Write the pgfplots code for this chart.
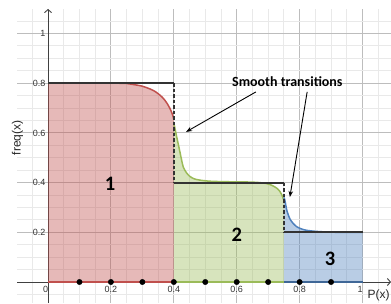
\documentclass[border=0pt]{standalone}
\usepackage{pgfplots}
\pgfplotsset{compat=1.18}
\usetikzlibrary{arrows.meta}
\usepackage{fontspec}
\setmainfont{Liberation Sans}
\newfontfamily\calib{Carlito}
\definecolor{cred}{HTML}{C0504D}
\definecolor{cgreen}{HTML}{9BBB59}
\definecolor{cblue}{HTML}{4F81BD}
\definecolor{steps}{HTML}{333333}
\definecolor{majgrid}{HTML}{BDBDBD}
\definecolor{mingrid}{HTML}{E9E9E9}
\begin{document}
\begin{tikzpicture}
\useasboundingbox (0,0) rectangle (391pt,303pt);
\begin{axis}[
  at={(17pt,0pt)}, anchor=south west,
  scale only axis, width=374pt, height=294pt,
  xmin=-0.0986, xmax=1.0906, ymin=-0.0845, ymax=1.0986,
  axis lines=middle,
  axis line style={draw=black!75, line width=0.9pt, -{Straight Barb[length=3pt,width=7pt]}},
  xtick={0,0.2,0.4,0.6,0.8,1},
  xticklabels={\makebox[0pt][r]{0},0.2,0.4,0.6,0.8,\makebox[0pt][r]{1}},
  ytick={0.2,0.4,0.6,0.8,1},
  yticklabels={0.2,0.4,0.6,0.8,1},
  minor xtick={-0.1,-0.05,...,1.1},
  minor ytick={-0.1,-0.05,...,1.1},
  hide obscured x ticks=false, hide obscured y ticks=false,
  grid=both,
  major grid style={draw=majgrid, line width=0.9pt},
  minor grid style={draw=mingrid, line width=0.9pt},
  major tick length=0pt, minor tick length=0pt,
  /pgf/number format/assume math mode=true,
  tick label style={font=\fontsize{9}{10}\selectfont, text=black!80},
  xticklabel style={anchor=north, yshift=-1pt},
  yticklabel style={anchor=east, xshift=1pt},
  clip=false,
]
% fills
\addplot[draw=none, fill=cred, fill opacity=0.4] coordinates {
 (0,0.8) (0.2,0.8) (0.25,0.799) (0.27,0.795) (0.3,0.788) (0.324,0.777) (0.34,0.767) (0.356,0.752) (0.368,0.737) (0.378,0.72) (0.387,0.70) (0.394,0.68) (0.398,0.665) (0.4,0.652) (0.4,0) (0,0)} -- cycle;
\addplot[draw=none, fill=cgreen, fill opacity=0.4] coordinates {
 (0.4,0.64) (0.405,0.61) (0.409,0.585) (0.415,0.55) (0.42,0.52) (0.425,0.49) (0.43,0.463) (0.44,0.44) (0.451,0.425) (0.465,0.415) (0.483,0.41) (0.51,0.406) (0.55,0.404) (0.6,0.403) (0.65,0.402) (0.68,0.399) (0.695,0.396) (0.71,0.39) (0.727,0.378) (0.737,0.365) (0.743,0.352) (0.748,0.335) (0.75,0.33) (0.75,0) (0.4,0)} -- cycle;
\addplot[draw=none, fill=cblue, fill opacity=0.4] coordinates {
 (0.75,0.34) (0.753,0.33) (0.756,0.31) (0.759,0.29) (0.764,0.27) (0.77,0.252) (0.78,0.235) (0.79,0.223) (0.805,0.214) (0.822,0.208) (0.85,0.204) (0.875,0.202) (0.92,0.2) (1,0.2) (1,0) (0.75,0)} -- cycle;
% curves
\addplot[cred, line width=1.5pt, smooth] coordinates {
 (0,0.8) (0.2,0.8) (0.25,0.799) (0.27,0.795) (0.3,0.788) (0.324,0.777) (0.34,0.767) (0.356,0.752) (0.368,0.737) (0.378,0.72) (0.387,0.70) (0.394,0.68) (0.398,0.665) (0.4,0.652)};
\addplot[cgreen, line width=1.5pt, smooth] coordinates {
 (0.4,0.64) (0.405,0.61) (0.409,0.585) (0.415,0.55) (0.42,0.52) (0.425,0.49) (0.43,0.463) (0.44,0.44) (0.451,0.425) (0.465,0.415) (0.483,0.41) (0.51,0.406) (0.55,0.404) (0.6,0.403) (0.65,0.402) (0.68,0.399) (0.695,0.396) (0.71,0.39) (0.727,0.378) (0.737,0.365) (0.743,0.352) (0.748,0.335) (0.75,0.33)};
\addplot[cblue, line width=1.5pt, smooth] coordinates {
 (0.75,0.34) (0.753,0.33) (0.756,0.31) (0.759,0.29) (0.764,0.27) (0.77,0.252) (0.78,0.235) (0.79,0.223) (0.805,0.214) (0.822,0.208) (0.85,0.204) (0.875,0.202) (0.92,0.2) (1,0.2)};
% bottom lines
\addplot[cred, line width=2pt] coordinates {(0,0) (0.4,0)};
\addplot[cgreen, line width=2pt] coordinates {(0.4,0) (0.75,0)};
\addplot[cblue!80!black, line width=2pt] coordinates {(0.75,0) (1,0)};
% steps
\addplot[steps, line width=1.8pt] coordinates {(0,0.8) (0.4,0.8)};
\addplot[steps, line width=1.8pt, dash pattern=on 3.5pt off 2pt] coordinates {(0.4,0.8) (0.4,0.4)};
\addplot[steps, line width=1.8pt] coordinates {(0.4,0.4) (0.75,0.4)};
\addplot[steps, line width=1.8pt, dash pattern=on 3.5pt off 2pt] coordinates {(0.75,0.4) (0.75,0.2)};
\addplot[steps, line width=1.8pt] coordinates {(0.75,0.2) (1,0.2)};
% dots
\addplot[only marks, mark=*, mark size=2.7pt, black] coordinates {
 (0.1,0) (0.2,0) (0.3,0) (0.4,0) (0.5,0) (0.6,0) (0.7,0) (0.8,0) (0.9,0)};
% annotations
\node[font=\calib\bfseries\fontsize{14}{15}\selectfont] at (axis cs:0.761,0.805) {Smooth transitions};
\draw[black, line width=0.9pt, -{Stealth[length=6pt,width=4.5pt]}] (axis cs:0.661,0.765) -- (axis cs:0.439,0.604);
\draw[black, line width=0.9pt, -{Stealth[length=6pt,width=4.5pt]}] (axis cs:0.824,0.765) -- (axis cs:0.769,0.342);
\node[font=\calib\bfseries\fontsize{20.5}{22}\selectfont] at (axis cs:0.197,0.397) {1};
\node[font=\calib\bfseries\fontsize{20.5}{22}\selectfont] at (axis cs:0.6,0.189) {2};
\node[font=\calib\bfseries\fontsize{20.5}{22}\selectfont] at (axis cs:0.897,0.095) {3};
\node[font=\fontsize{12}{13}\selectfont, rotate=90, text=black!85] at (axis cs:-0.097,0.58) {freq(x)};
\node[font=\fontsize{12}{13}\selectfont, text=black!85] at (axis cs:1.051,-0.055) {P(x)};
\end{axis}
\end{tikzpicture}
\end{document}
